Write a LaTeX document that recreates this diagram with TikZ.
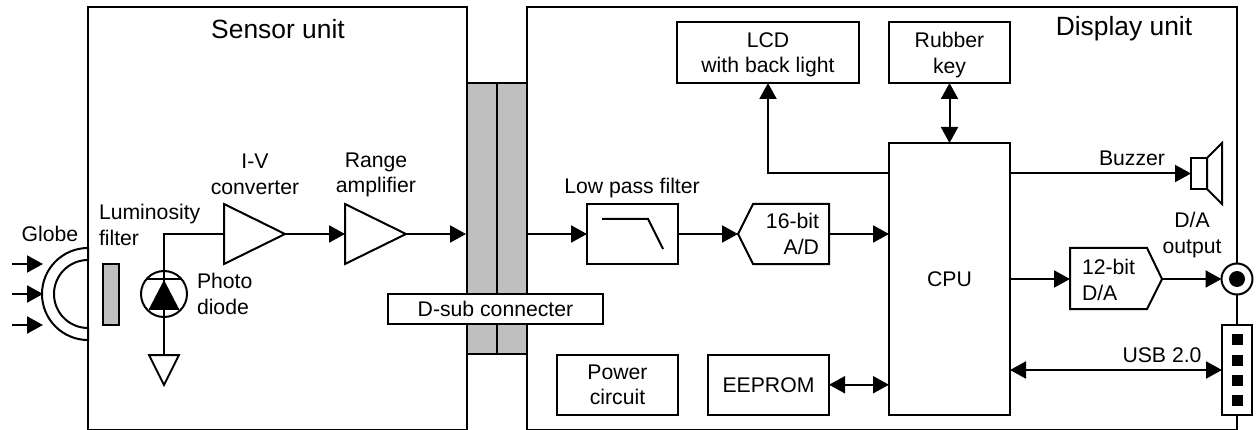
\documentclass[tikz,border=0pt]{standalone}
\usepackage{fontspec}
\setmainfont{Liberation Sans}
\usetikzlibrary{arrows.meta}
\tikzset{
  wire/.style={line width=2pt,line cap=butt},
  arr/.style={wire,-{Triangle[length=16pt,width=17pt]}},
  dbl/.style={wire,{Triangle[length=16pt,width=17pt]}-{Triangle[length=16pt,width=17pt]}},
  shapeline/.style={line width=2pt,line join=miter,fill=white},
  lbl/.style={inner sep=0pt,outer sep=0pt,align=center,font=\fontsize{21.2}{25.7}\selectfont},
  titlelbl/.style={inner sep=0pt,outer sep=0pt,font=\fontsize{26.4}{30}\selectfont},
  boxn/.style={draw,line width=2pt,fill=white,inner sep=0pt,outer sep=0pt,align=center,font=\fontsize{21.2}{25.7}\selectfont,anchor=north west},
  grey/.style={draw,line width=2pt,fill=black!25},
}
\newcommand{\pxbox}[6][]{\node[boxn,minimum width=#4pt,minimum height=#5pt,#1] (#2) at #3 {#6};}
\begin{document}
\begin{tikzpicture}[x=1pt,y=-1pt]
\useasboundingbox (0,0) rectangle (1257,430);
\fill[white] (0,0) rectangle (1257,430);
\begin{scope}
\clip (0,0) rectangle (1257,430);
% units
\pxbox{sensor}{(88,7.5)}{379}{422.2}{}
\pxbox{display}{(527,7.5)}{710}{422.2}{}
\end{scope}
\node[titlelbl] (sensorlbl) at (278,29) {Sensor unit};
\node[titlelbl] (displaylbl) at (1124,29) {Display unit};
% connector block
\pxbox[grey]{conA}{(467,83)}{30}{271}{}
\pxbox[grey]{conB}{(497,83)}{30}{271}{}
\pxbox{dsub}{(388,294)}{215}{30}{D-sub connecter}
% globe
\draw[shapeline] (88,248) arc[start angle=-90,end angle=-270,radius=46] -- (88,328) arc[start angle=90,end angle=270,radius=34] -- cycle;
\draw[line width=2pt] (88,7.5) -- (88,430);
\coordinate (g1) at (12,264); \coordinate (g1e) at (43,264);
\coordinate (g2) at (12,294); \coordinate (g2e) at (43,294);
\coordinate (g3) at (12,325); \coordinate (g3e) at (43,325);
\draw[arr] (g1) -- (g1e);
\draw[arr] (g2) -- (g2e);
\draw[arr] (g3) -- (g3e);
\node[lbl] (globelbl) at (50,234) {Globe};
% filter
\pxbox[grey]{lumf}{(103,264)}{16}{61}{}
\node[lbl,align=left,anchor=north west] (lumlbl) at (99,204) {Luminosity\\filter};
% amplifiers
\coordinate (iv) at (224,234); \coordinate (ivo) at (285,234);
\draw[shapeline] (224,204) -- (285,234) -- (224,264) -- cycle;
\coordinate (ra) at (345,234); \coordinate (rao) at (406,234);
\draw[shapeline] (345,204) -- (406,234) -- (345,264) -- cycle;
\node[lbl] (ivlbl) at (255,174) {I-V\\converter};
\node[lbl] (ralbl) at (376,175) {Range\\amplifier};
\draw[arr] (ivo) -- (ra);
\coordinate (conin) at (466,234);
\draw[arr] (rao) -- (conin);
% diode
\coordinate (gnd) at (164,355);
\draw[wire] (iv) -| (gnd);
\node[draw,circle,line width=2pt,outer sep=0pt,minimum size=46pt,inner sep=0pt] (diode) at (164,294) {};
\fill (164,280) -- (149,309) -- (179,309) -- cycle;
\draw[wire] (147,279) -- (181,279);
\draw[wire] (149,309) -- (179,309);
\draw[shapeline] (149,355) -- (179,355) -- (164,385) -- cycle;
\node[lbl,align=left,anchor=north west] (pdlbl) at (197,273) {Photo\\diode};
% low pass
\pxbox{lpf}{(587,204)}{91}{60}{}
\draw[wire] (602,219) -- (648,219) -- (663,249);
\node[lbl] (lpflbl) at (632,188.5) {Low pass filter};
\coordinate (conout) at (527,234);
\draw[arr] (conout) -- (lpf.west);
% A/D
\draw[shapeline] (738,234) -- (753,204) -- (829,204) -- (829,264) -- (753,264) -- cycle;
\node[lbl,align=right,anchor=east] (adlbl) at (819,234) {16-bit\\A/D};
\coordinate (adin) at (738,234); \coordinate (adout) at (829,234);
\draw[arr] (lpf.east) -- (adin);
% CPU
\pxbox{cpu}{(889,143)}{121}{272}{CPU}
\draw[arr] (adout) -- (cpu.west |- adout);
% top boxes
\pxbox{lcd}{(677,22.5)}{182}{60.5}{LCD\\\smash{with back light}}
\pxbox{rubber}{(889,22.5)}{121}{60.5}{Rubber\\\smash{key}}
\coordinate (lcdt) at (768,173);
\draw[arr] (cpu.west |- lcdt) -- (lcdt) -- (lcd.south);
\draw[dbl] (rubber.south) -- (rubber.south |- cpu.north);
% buzzer
\pxbox{buzz}{(1191,158)}{16}{31}{}
\draw[shapeline] (1207,158) -- (1222,143) -- (1222,204) -- (1207,189) -- cycle;
\draw[arr] (cpu.east |- buzz.west) -- (buzz.west);
\node[lbl] (buzzlbl) at (1132,158) {Buzzer};
% D/A
\draw[shapeline] (1070,248) -- (1147,248) -- (1162,279) -- (1147,309) -- (1070,309) -- cycle;
\node[lbl,align=left,anchor=west] (dalbl) at (1082,280) {12-bit\\D/A};
\coordinate (dain) at (1070,279); \coordinate (daout) at (1162,279);
\draw[arr] (cpu.east |- dain) -- (dain);
\node[draw,circle,line width=2pt,fill=white,outer sep=0pt,minimum size=31pt,inner sep=0pt] (jack) at (1237,279) {};
\fill (jack) circle[radius=8];
\draw[arr] (daout) -- (jack.west);
\node[lbl] (daolbl) at (1192,235) {D/A\\output};
% USB
\pxbox{usb}{(1222,325)}{30}{90}{}
\foreach \yy in {334,355,375,395} \fill (1232,\yy) rectangle (1243,\yy+11);
\draw[dbl] (cpu.east |- usb.west) -- (usb.west);
\node[lbl] (usblbl) at (1162,355) {USB 2.0};
% bottom boxes
\pxbox{power}{(557,354.5)}{121}{60.5}{Power\\circuit}
\pxbox{eeprom}{(708,354.5)}{121}{60.5}{EEPROM}
\draw[dbl] (eeprom.east) -- (cpu.west |- eeprom.east);
\end{tikzpicture}
\end{document}
